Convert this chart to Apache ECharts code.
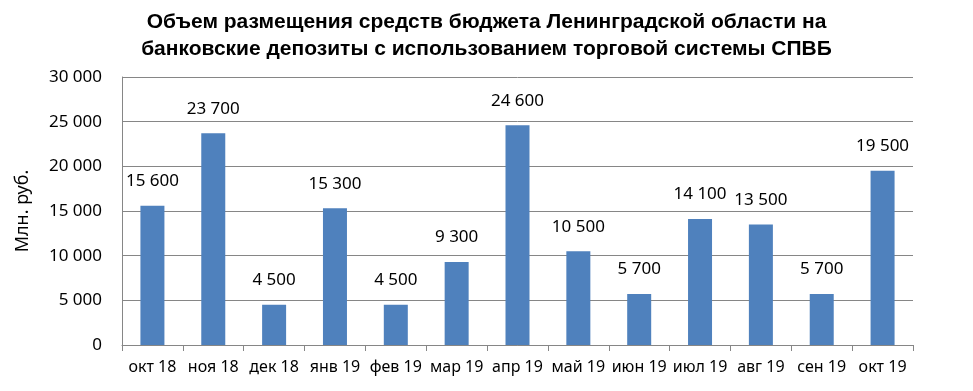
<!DOCTYPE html>
<html><head><meta charset="utf-8">
<script src="https://cdn.jsdelivr.net/npm/echarts@6/dist/echarts.min.js"></script>
<style>html,body{margin:0;padding:0;background:#fff}#c{width:973px;height:391px}</style>
</head><body><div id="c"></div>
<script>
var categories = ['окт 18','ноя 18','дек 18','янв 19','фев 19','мар 19','апр 19','май 19','июн 19','июл 19','авг 19','сен 19','окт 19'];
var values = [15600, 23700, 4500, 15300, 4500, 9300, 24600, 10500, 5700, 14100, 13500, 5700, 19500];
var yTicks = {min: 0, max: 30000, interval: 5000};
var titleText = 'Объем размещения средств бюджета Ленинградской области на\nбанковские депозиты с использованием торговой системы СПВБ';
var yName = 'Млн. руб.';

function fmt(v){ return String(v).replace(/\B(?=(\d{3})+(?!\d))/g, ' '); }
var font = '"Noto Sans", sans-serif';
var chart = echarts.init(document.getElementById('c'));
chart.setOption({
  animation: false,
  title: {
    text: titleText, left: 'center', top: 4,
    textStyle: {fontFamily: 'Liberation Sans, Arial, sans-serif', fontWeight: 'bold', fontSize: 21, color: '#000', lineHeight: 27}
  },
  grid: {left: 122, right: 60, top: 77, bottom: 46},
  xAxis: {
    type: 'category', data: categories,
    axisLine: {lineStyle: {color: '#868686'}},
    axisTick: {show: true, length: 6, lineStyle: {color: '#868686'}},
    axisLabel: {interval: 0, fontFamily: font, fontSize: 16, color: '#000', margin: 14}
  },
  yAxis: {
    type: 'value', min: yTicks.min, max: yTicks.max, interval: yTicks.interval,
    name: yName, nameLocation: 'middle', nameGap: 90, nameRotate: 90,
    nameTextStyle: {fontFamily: font, fontSize: 18, color: '#000'},
    axisLine: {show: true, lineStyle: {color: '#868686'}},
    axisTick: {show: false},
    splitLine: {lineStyle: {color: '#868686'}},
    axisLabel: {fontFamily: font, fontSize: 17, color: '#000', margin: 20, formatter: fmt}
  },
  series: [{
    type: 'bar', data: values, barWidth: 24,
    itemStyle: {color: '#4F81BD'},
    label: {show: true, position: 'top', distance: 16, fontFamily: font, fontSize: 17, color: '#000', formatter: function(p){return fmt(p.value);}}
  }]
});
</script></body></html>
